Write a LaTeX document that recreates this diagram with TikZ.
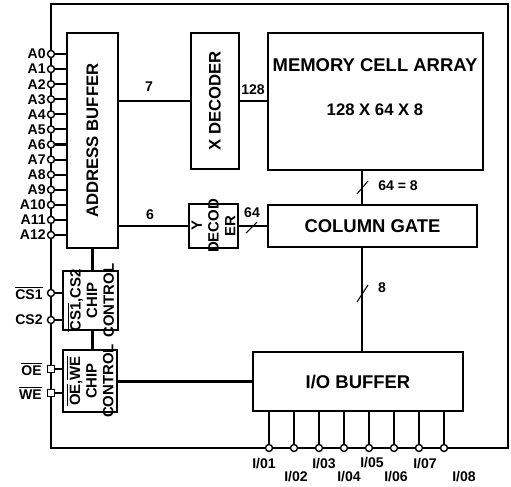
\documentclass[tikz,border=0pt]{standalone}
\usepackage{fontspec}
\setmainfont{Liberation Sans}
\usepackage{amsmath}

\tikzset{
  wire/.style={line width=1.2pt},
  blk/.style 2 args={draw, line width=1.3pt, minimum width=#1*0.02cm, minimum height=#2*0.02cm, inner sep=0pt},
  txt/.style={font=\fontsize{10.5}{10.5}\selectfont\bfseries, inner sep=0pt},
  rot/.style={rotate=90, align=center, inner sep=0pt, font=\fontsize{9.5}{10}\selectfont\bfseries},
  rotsm/.style={rotate=90, align=center, inner sep=0pt, font=\fontsize{8.5}{9.5}\selectfont\bfseries},
  lbl/.style={font=\fontsize{8}{8}\selectfont\bfseries, inner sep=0pt},
  pin/.style={draw, circle, fill=white, line width=0.8pt, inner sep=0pt, minimum size=0.14cm},
  sqpin/.style={draw, rectangle, fill=white, line width=0.8pt, inner sep=0pt, minimum size=0.14cm},
  tick/.style={line width=0.6pt}
}

\begin{document}
\begin{tikzpicture}[x=0.02cm,y=-0.02cm]
\useasboundingbox (0,0) rectangle (511,487);

%outer frame
\draw[wire] (51,4) rectangle (508,448);

%blocks
\node[blk={51}{215}] (addr) at (92.5,140.5) {};
\node[blk={48}{136}] (xdec) at (215,101) {};
\node[blk={215}{137}] (mem) at (375.5,101.5) {};
\node[blk={209}{42}] (colg) at (372.5,226) {};
\node[blk={49}{44}] (ydec) at (213.5,226) {};
\node[blk={55}{59}] (csctl) at (90.5,300.5) {};
\node[blk={54}{62}] (oectl) at (90,381) {};
\node[blk={210}{59}] (iobuf) at (358,381.5) {};

%block texts
\node[rot] (addrtxt) at (addr) {ADDRESS BUFFER};
\node[rot] (xdectxt) at (xdec) {X DECODER};
\node[rotsm] (ydectxt) at (ydec) {Y\\DECOD\\ER};
\node[rotsm] (cstxt) at (csctl) {$\overline{\text{CS1}}$,CS2\\CHIP\\CONTROL};
\node[rotsm] (oetxt) at (oectl) {$\overline{\text{OE}}$,$\overline{\text{WE}}$\\CHIP\\CONTROL};
\node[txt] (memtxt) at (375,65) {MEMORY CELL ARRAY};
\node[txt, font=\fontsize{9.5}{9.5}\selectfont\bfseries] (memsize) at (375,110) {128 X 64 X 8};
\node[txt] (colgtxt) at (colg) {COLUMN GATE};
\node[txt] (iotxt) at (iobuf) {I/O BUFFER};

%buses
\coordinate (bus) at (362,0);
\draw[wire] (xdec.west -| addr.east) -- (xdec.west);
\draw[wire] (xdec.east) -- (xdec.east -| mem.west);
\draw[wire] (ydec.west -| addr.east) -- (ydec.west);
\draw[wire] (ydec.east) -- (colg.west);
\draw[wire] (mem.south -| bus) -- (colg.north -| bus);
\draw[wire] (colg.south -| bus) -- (iobuf.north -| bus);
\draw[wire] (iobuf.west) -- (iobuf.west -| oectl.east);
\draw[wire] (addr.south) -- (addr.south |- csctl.north);
\draw[wire] (csctl.south -| addr.south) -- (oectl.north -| addr.south);

\draw[tick] (357,194) -- (368,181);
\draw[tick] (246,233) -- (257,222);
\draw[tick] (357,302) -- (368,285);

\node[lbl] (n7) at (149,87) {7};
\node[lbl] (n6) at (150,215) {6};
\node[lbl] (n128) at (253,90) {128};
\node[lbl] (n64) at (252,213) {64};
\node[lbl] (n648) at (398,186) {64 = 8};
\node[lbl] (n8) at (382,288) {8};

%address pins
\foreach \i in {0,...,12} {
  \pgfmathsetmacro\py{54+15.08*\i}
  \node[pin] (a\i) at (51,\py) {};
  \draw[wire] (a\i.east) -- (a\i -| addr.west);
  \node[lbl, anchor=east] (la\i) at (46,\py) {A\i};
}

%chip select pins
\node[pin] (cs1) at (51,293) {};
\node[pin] (cs2) at (51,320) {};
\draw[wire] (cs1.east) -- (cs1 -| csctl.west);
\draw[wire] (cs2.east) -- (cs2 -| csctl.west);
\node[lbl, anchor=east] (lcs1) at (43,293) {$\overline{\text{CS1}}$};
\node[lbl, anchor=east] (lcs2) at (43,320) {CS2};

\node[sqpin] (oe) at (51,369) {};
\node[sqpin] (we) at (51,393) {};
\draw[wire] (oe.east) -- (oe -| oectl.west);
\draw[wire] (we.east) -- (we -| oectl.west);
\node[lbl, anchor=east] (loe) at (42,369) {$\overline{\text{OE}}$};
\node[lbl, anchor=east] (lwe) at (42,393) {$\overline{\text{WE}}$};

%data pins
\foreach \n/\lx/\ly in {1/264/464, 2/296/477, 3/324/464, 4/349/477, 5/372/463, 6/396/477, 7/425/464, 8/464/477} {
  \pgfmathsetmacro\px{269+25*(\n-1)}
  \draw[wire] (\px,0 |- iobuf.south) -- (\px,448);
  \node[pin] (io\n) at (\px,448) {};
  \node[lbl] (lio\n) at (\lx,\ly) {I/0\n};
}

\end{tikzpicture}
\end{document}
